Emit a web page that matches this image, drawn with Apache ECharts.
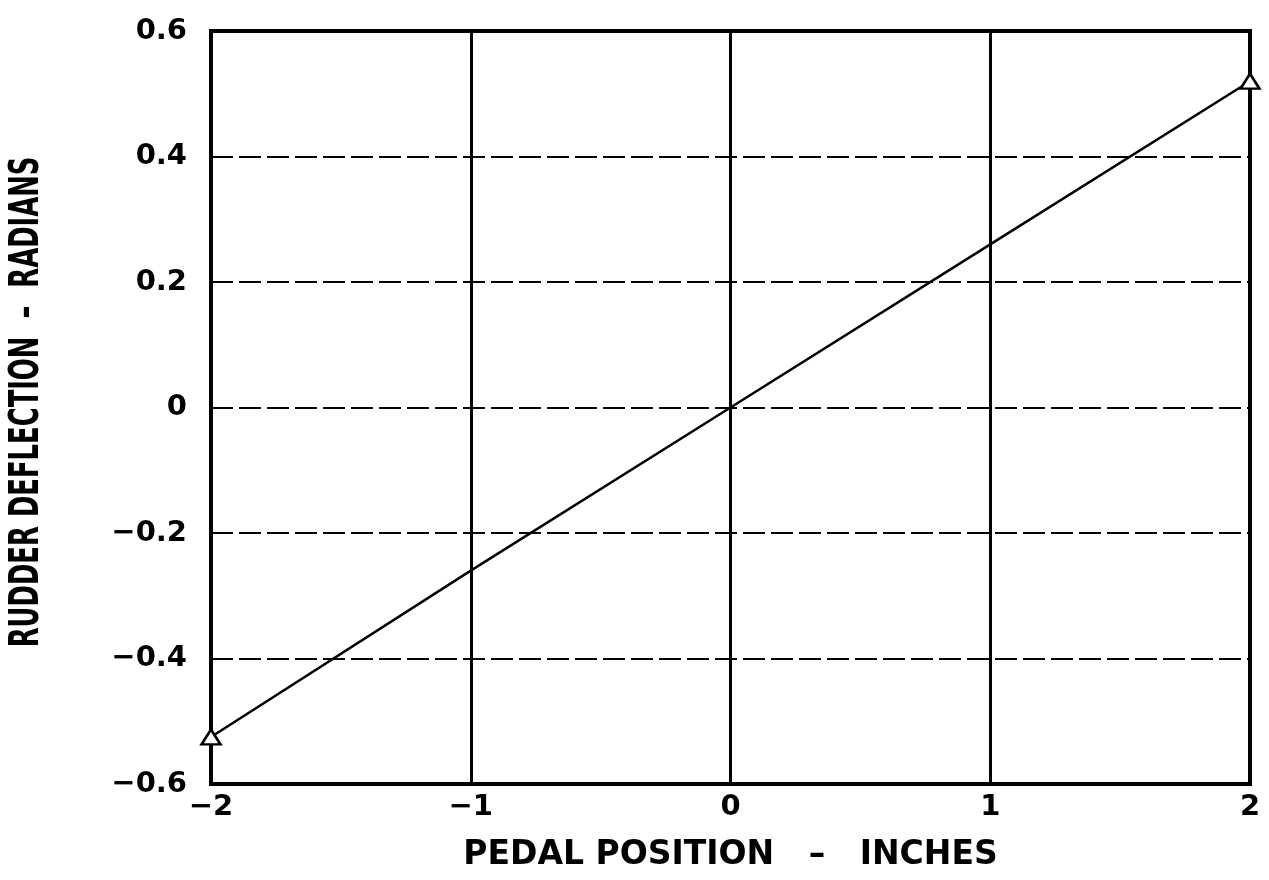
<!DOCTYPE html>
<html><head><meta charset="utf-8">
<script src="https://cdn.jsdelivr.net/npm/echarts@6/dist/echarts.min.js"></script>
<style>html,body{margin:0;padding:0;background:#fff}#c{width:1269px;height:880px}</style>
</head><body><div id="c"></div>
<script>
const pedalPosition = [-2, -1, 0, 1, 2];
const rudderDeflection = [-0.525, -0.26, 0, 0.26, 0.52];
const xTicks = [-2, -1, 0, 1, 2];
const yTicks = [-0.6, -0.4, -0.2, 0, 0.2, 0.4, 0.6];
const xTitle = 'PEDAL POSITION   \u2013   INCHES';
const yTitle = 'RUDDER DEFLECTION  \u2013  RADIANS';

const chart = echarts.init(document.getElementById('c'));
const fmtY = v => { const r = Math.round(v*10)/10; if (r === 0) return '0'; return (r < 0 ? '\u2212' : '') + Math.abs(r).toFixed(1); };
const fmtX = v => { const r = Math.round(v); return r < 0 ? '\u2212' + Math.abs(r) : String(r); };
const labFont = {fontFamily: 'DejaVu Sans', fontWeight: 'bold', fontSize: 29, color: '#000'};
const data = pedalPosition.map((x, i) => {
  const end = (i === 0 || i === pedalPosition.length - 1);
  return {value: [x, rudderDeflection[i]], symbol: end ? 'triangle' : 'none', symbolSize: end ? [19, 15] : 0};
});
chart.setOption({
  animation: false,
  backgroundColor: '#fff',
  grid: {left: 211, right: 19, top: 31, bottom: 96, show: true, borderColor: '#000', borderWidth: 4, outerBoundsMode: 'none', containLabel: false},
  graphic: [{
    type: 'text', x: 27, y: 402, rotation: Math.PI / 2, scaleX: 0.7, scaleY: 1,
    style: {text: yTitle, fill: '#000', font: "bold 41px 'DejaVu Sans Condensed'", align: 'center', verticalAlign: 'middle'}
  }],
  xAxis: {
    type: 'value', min: -2, max: 2, interval: 1,
    name: xTitle, nameLocation: 'middle', nameGap: 55,
    nameTextStyle: {fontFamily: 'DejaVu Sans', fontWeight: 'bold', fontSize: 33, color: '#000'},
    axisLine: {show: false}, axisTick: {show: false},
    axisLabel: Object.assign({formatter: fmtX, margin: 9}, labFont),
    splitLine: {show: true, lineStyle: {color: '#000', width: 3, type: 'solid'}}
  },
  yAxis: {
    type: 'value', min: -0.6, max: 0.6, interval: 0.2,
    axisLine: {show: false}, axisTick: {show: false},
    axisLabel: Object.assign({formatter: fmtY, margin: 24}, labFont),
    splitLine: {show: true, lineStyle: {color: '#000', width: 2, type: [22, 6]}}
  },
  series: [{
    type: 'line', data: data,
    lineStyle: {color: '#000', width: 2.5},
    itemStyle: {color: '#fff', borderColor: '#000', borderWidth: 2.5},
    showSymbol: true, z: 5
  }]
});
</script></body></html>
